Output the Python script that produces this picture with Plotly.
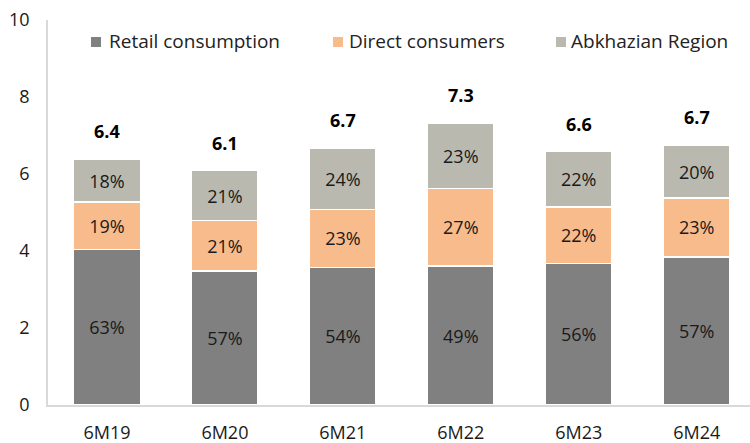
import plotly.graph_objects as go

categories = ["6M19", "6M20", "6M21", "6M22", "6M23", "6M24"]
retail = [4.04, 3.48, 3.57, 3.61, 3.68, 3.85]
direct = [1.23, 1.31, 1.51, 2.02, 1.46, 1.53]
abkhazian = [1.11, 1.30, 1.59, 1.69, 1.44, 1.37]
retail_pct = ["63%", "57%", "54%", "49%", "56%", "57%"]
direct_pct = ["19%", "21%", "23%", "27%", "22%", "23%"]
abkhazian_pct = ["18%", "21%", "24%", "23%", "22%", "20%"]
total_labels = ["6.4", "6.1", "6.7", "7.3", "6.6", "6.7"]
series_names = ["Retail consumption", "Direct consumers", "Abkhazian Region"]
series_colors = ["#808080", "#F8BB8C", "#B9B9AF"]

FONT = "Open Sans"
TXT = "#1a1a1a"

W, H = 750, 443
L, R, T, B = 48, 0, 20, 38
PW, PH = W - L - R, H - T - B


def px(x):
    return (x - L) / PW


def py(y):
    return (H - B - y) / PH


fig = go.Figure()
for vals, labels, name, color in zip(
    [retail, direct, abkhazian],
    [retail_pct, direct_pct, abkhazian_pct],
    series_names,
    series_colors,
):
    fig.add_trace(
        go.Bar(
            x=categories,
            y=vals,
            name=name,
            text=labels,
            textposition="inside",
            insidetextanchor="middle",
            textangle=0,
            constraintext="none",
            textfont=dict(family=FONT, size=18, color=TXT),
            marker=dict(color=color, line=dict(color="white", width=1.5)),
            showlegend=False,
        )
    )

totals = [a + b + c for a, b, c in zip(retail, direct, abkhazian)]
for cat, tot, lab in zip(categories, totals, total_labels):
    fig.add_annotation(
        x=cat, y=tot, text="<b>" + lab + "</b>", showarrow=False,
        yshift=28, font=dict(family=FONT, size=18, color="#000000"),
    )

# manual legend
legend_sq = [91, 333, 556]
legend_tx = [108, 348, 570]
for sx, tx, name, color in zip(legend_sq, legend_tx, series_names, series_colors):
    fig.add_shape(
        type="rect", xref="paper", yref="paper",
        x0=px(sx), x1=px(sx + 10), y0=py(47), y1=py(37),
        fillcolor=color, line=dict(width=0),
    )
    fig.add_annotation(
        xref="paper", yref="paper", x=px(tx - 1), y=py(41),
        xanchor="left", yanchor="middle", text=name, showarrow=False,
        font=dict(family=FONT, size=19, color="#222222"),
    )

fig.update_layout(
    width=W, height=H,
    margin=dict(l=L, r=R, t=T, b=B, pad=0),
    barmode="stack",
    bargap=0.435,
    plot_bgcolor="white",
    paper_bgcolor="white",
    font=dict(family=FONT, size=18, color=TXT),
)
fig.update_xaxes(
    range=[-0.5, 5.452],
    showline=True, linecolor="#D9D9D9", linewidth=1.5,
    showgrid=False, zeroline=False, ticks="",
    ticklabelstandoff=11,
    tickfont=dict(family=FONT, size=18, color=TXT),
)
fig.update_yaxes(
    range=[0, 10], dtick=2,
    showline=True, linecolor="#D9D9D9", linewidth=1.5,
    showgrid=False, zeroline=False, ticks="",
    ticklabelstandoff=13,
    tickfont=dict(family=FONT, size=18, color=TXT),
)

fig.write_html(
    "out.html",
    config={"displayModeBar": False},
    post_script="document.body.style.margin='0';document.body.style.overflow='hidden';",
)
